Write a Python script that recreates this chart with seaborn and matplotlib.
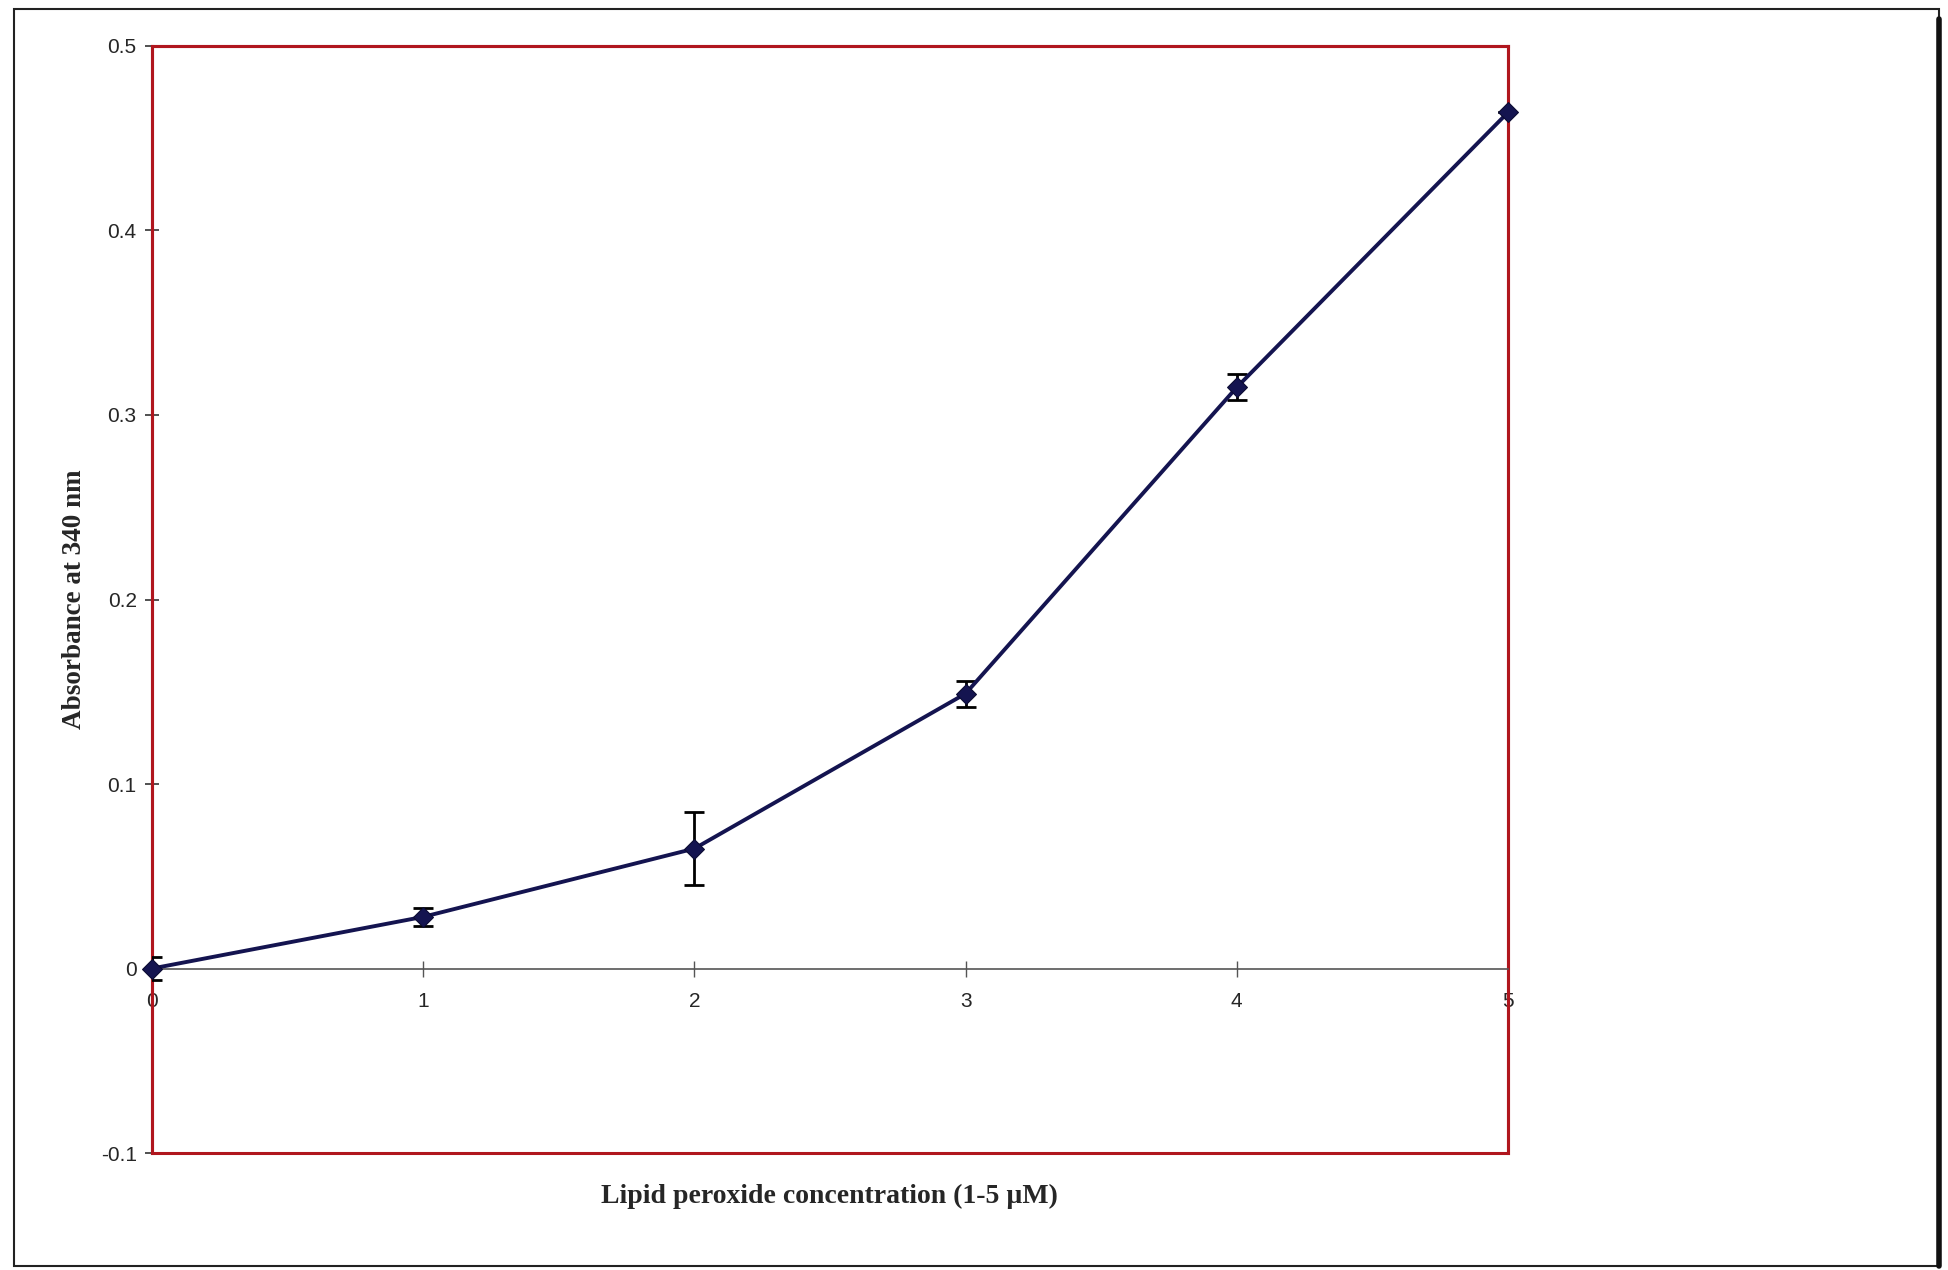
import numpy as np
import pandas as pd
import seaborn as sns
import matplotlib.pyplot as plt
from matplotlib.patches import Rectangle

# Values
concentration = [0, 1, 2, 3, 4, 5]
absorbance = [0.0, 0.028, 0.065, 0.149, 0.315, 0.464]
abs_err = [0.006, 0.005, 0.020, 0.007, 0.007, 0.0]

y_ticks = [-0.1, 0, 0.1, 0.2, 0.3, 0.4, 0.5]
y_ticklabels = ['-0.1', '0', '0.1', '0.2', '0.3', '0.4', '0.5']
x_ticks = [0, 1, 2, 3, 4, 5]

df = pd.DataFrame({'conc': concentration, 'absorb': absorbance, 'err': abs_err})

sns.set_style('white')
plt.rcParams['font.family'] = ['Liberation Sans', 'DejaVu Sans']

fig = plt.figure(figsize=(19.49, 12.70), dpi=100)
ax = fig.add_axes([0.078, 0.0921, 0.6957, 0.8717])

line_col = '#141450'
red_col = '#b0161e'

ax.errorbar(df['conc'], df['absorb'], yerr=df['err'], fmt='none',
            ecolor='black', elinewidth=2.0, capsize=7, capthick=2.0, zorder=4)
sns.lineplot(data=df, x='conc', y='absorb', ax=ax, color=line_col, linewidth=2.8,
             marker='D', markersize=10, markerfacecolor=line_col,
             markeredgecolor='#0a0a30', zorder=5, clip_on=False)

ax.set_xlim(0, 5)
ax.set_ylim(-0.1, 0.5)
ax.set_yticks(y_ticks)
ax.set_yticklabels(y_ticklabels)
ax.set_xticks(x_ticks)

# x axis sits at zero, red box surrounds the plot area
for side in ['left', 'top', 'right']:
    ax.spines[side].set_color(red_col)
    ax.spines[side].set_linewidth(2.2)
ax.spines['bottom'].set_position(('data', 0))
ax.spines['bottom'].set_color('#555555')
ax.spines['bottom'].set_linewidth(1.2)
ax.add_patch(Rectangle((0, 0), 1, 1, transform=ax.transAxes, fill=False,
                       edgecolor=red_col, linewidth=2.2, clip_on=False, zorder=1))

ax.tick_params(axis='y', direction='inout', length=10, width=1.2, color='#333333',
               labelsize=15, pad=6, left=True)
ax.tick_params(axis='x', direction='inout', length=12, width=1.0, color='#555555',
               labelsize=15, pad=11, bottom=True)

ax.set_xlabel('')
ax.set_ylabel('')
fig.text(0.4255, 0.058, 'Lipid peroxide concentration (1-5 \u00b5M)', ha='center', va='center',
         fontsize=20, fontweight='bold', family=['Liberation Serif', 'DejaVu Serif'])
fig.text(0.038, 0.528, 'Absorbance at 340 nm', ha='center', va='center', rotation=90,
         fontsize=19.5, fontweight='bold', family=['Liberation Serif', 'DejaVu Serif'])

# scanned page border
fig.add_artist(Rectangle((0.007, 0.003), 0.988, 0.990, transform=fig.transFigure,
                         fill=False, edgecolor='#222222', linewidth=1.5))
fig.add_artist(plt.Line2D([0.995, 0.995], [0.003, 0.985], transform=fig.transFigure,
                          color='#111111', linewidth=4))

fig.savefig('out.png', dpi=100, facecolor='white')
